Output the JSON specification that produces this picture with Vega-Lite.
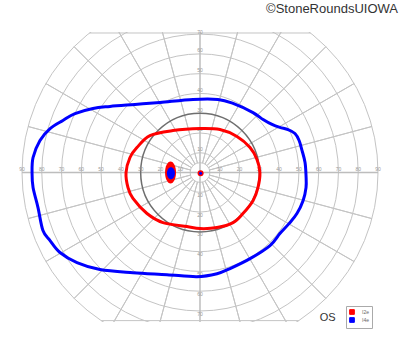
{
  "$schema": "https://vega.github.io/schema/vega-lite/v6.json",
  "width": 360,
  "height": 290,
  "autosize": {"type": "none"},
  "padding": {"left": 20, "top": 32, "right": 20, "bottom": 30},
  "background": "white",
  "config": {"view": {"stroke": null}},
  "layer": [
    {
      "data": {"values": [{"r": 5}, {"r": 10}, {"r": 20}, {"r": 40}, {"r": 50}, {"r": 60}, {"r": 70}, {"r": 80}, {"r": 90}]},
      "mark": {"type": "arc", "filled": false, "stroke": "#c4c4c4", "strokeWidth": 1, "theta": 0, "theta2": 6.2832, "clip": true},
      "encoding": {
        "x": {"datum": 0, "type": "quantitative", "scale": {"domain": [-91, 91], "nice": false, "zero": false}, "axis": null},
        "y": {"datum": 0, "type": "quantitative", "scale": {"domain": [-75.5, 71], "nice": false, "zero": false}, "axis": null},
        "radius": {"field": "r", "type": "quantitative", "stack": null, "scale": {"type": "linear", "domain": [0, 90], "range": [0, 178], "zero": true}}
      }
    },
    {
      "data": {"values": [
        {"a": 15, "r0": 5, "r1": 90}, {"a": 30, "r0": 5, "r1": 90}, {"a": 45, "r0": 5, "r1": 90}, {"a": 60, "r0": 5, "r1": 90}, {"a": 75, "r0": 5, "r1": 90},
        {"a": 105, "r0": 5, "r1": 90}, {"a": 120, "r0": 5, "r1": 90}, {"a": 135, "r0": 5, "r1": 90}, {"a": 150, "r0": 5, "r1": 90}, {"a": 165, "r0": 5, "r1": 90},
        {"a": 195, "r0": 5, "r1": 90}, {"a": 210, "r0": 5, "r1": 90}, {"a": 225, "r0": 5, "r1": 90}, {"a": 240, "r0": 5, "r1": 90}, {"a": 255, "r0": 5, "r1": 90},
        {"a": 285, "r0": 5, "r1": 90}, {"a": 300, "r0": 5, "r1": 90}, {"a": 315, "r0": 5, "r1": 90}, {"a": 330, "r0": 5, "r1": 90}, {"a": 345, "r0": 5, "r1": 90}
      ]},
      "mark": {"type": "arc", "filled": false, "stroke": "#c4c4c4", "strokeWidth": 1, "clip": true},
      "encoding": {
        "x": {"datum": 0, "type": "quantitative"},
        "y": {"datum": 0, "type": "quantitative"},
        "theta": {"field": "a", "type": "quantitative", "stack": null, "scale": {"domain": [0, 360], "range": [0, 6.2832]}},
        "theta2": {"field": "a"},
        "radius": {"field": "r1", "type": "quantitative", "stack": null},
        "radius2": {"field": "r0"}
      }
    },
    {
      "data": {"values": [{"a": 0, "r0": 0, "r1": 90}, {"a": 90, "r0": 0, "r1": 90}, {"a": 180, "r0": 0, "r1": 90}, {"a": 270, "r0": 0, "r1": 90}]},
      "mark": {"type": "arc", "filled": false, "stroke": "#bdbdbd", "strokeWidth": 1.5, "clip": true},
      "encoding": {
        "x": {"datum": 0, "type": "quantitative"},
        "y": {"datum": 0, "type": "quantitative"},
        "theta": {"field": "a", "type": "quantitative", "stack": null},
        "theta2": {"field": "a"},
        "radius": {"field": "r1", "type": "quantitative", "stack": null},
        "radius2": {"field": "r0"}
      }
    },
    {
      "data": {"values": [{"r": 30}]},
      "mark": {"type": "arc", "filled": false, "stroke": "#6e6e6e", "strokeWidth": 1.5, "theta": 0, "theta2": 6.2832, "clip": true},
      "encoding": {
        "x": {"datum": 0, "type": "quantitative"},
        "y": {"datum": 0, "type": "quantitative"},
        "radius": {"field": "r", "type": "quantitative", "stack": null}
      }
    },
    {
      "data": {"values": [{"x": -55.9, "x2": 55.9, "y": 70.5}, {"x": -50.0, "x2": 50.0, "y": -74.8}]},
      "mark": {"type": "rule", "stroke": "#c4c4c4", "strokeWidth": 1},
      "encoding": {
        "x": {"field": "x", "type": "quantitative"},
        "x2": {"field": "x2"},
        "y": {"field": "y", "type": "quantitative"}
      }
    },
    {
      "data": {"values": [
        {"x": -90, "y": 0, "t": "90"}, {"x": -80, "y": 0, "t": "80"}, {"x": -70, "y": 0, "t": "70"}, {"x": -60, "y": 0, "t": "60"}, {"x": -50, "y": 0, "t": "50"}, {"x": -40, "y": 0, "t": "40"}, {"x": -30, "y": 0, "t": "30"}, {"x": -20, "y": 0, "t": "20"}, {"x": -10, "y": 0, "t": "10"},
        {"x": 10, "y": 0, "t": "10"}, {"x": 20, "y": 0, "t": "20"}, {"x": 30, "y": 0, "t": "30"}, {"x": 40, "y": 0, "t": "40"}, {"x": 50, "y": 0, "t": "50"}, {"x": 60, "y": 0, "t": "60"}, {"x": 70, "y": 0, "t": "70"}, {"x": 80, "y": 0, "t": "80"}, {"x": 90, "y": 0, "t": "90"},
        {"x": 0, "y": 10, "t": "10"}, {"x": 0, "y": 20, "t": "20"}, {"x": 0, "y": 30, "t": "30"}, {"x": 0, "y": 40, "t": "40"}, {"x": 0, "y": 50, "t": "50"}, {"x": 0, "y": 60, "t": "60"}, {"x": 0, "y": 69, "t": "70"}
      ]},
      "mark": {"type": "text", "fontSize": 5, "font": "Liberation Sans", "fill": "#9a9a9a", "baseline": "bottom", "align": "center", "dy": -0.5},
      "encoding": {
        "x": {"field": "x", "type": "quantitative"},
        "y": {"field": "y", "type": "quantitative"},
        "text": {"field": "t"}
      }
    },
    {
      "data": {"values": [
        {"x": 0, "y": -10, "t": "10"}, {"x": 0, "y": -20, "t": "20"}, {"x": 0, "y": -30, "t": "30"}, {"x": 0, "y": -40, "t": "40"}, {"x": 0, "y": -50, "t": "50"}, {"x": 0, "y": -60, "t": "60"}, {"x": 0, "y": -70, "t": "70"}
      ]},
      "mark": {"type": "text", "fontSize": 5, "font": "Liberation Sans", "fill": "#9a9a9a", "baseline": "top", "align": "center", "dy": 0.5},
      "encoding": {
        "x": {"field": "x", "type": "quantitative"},
        "y": {"field": "y", "type": "quantitative"},
        "text": {"field": "t"}
      }
    },
    {
      "data": {"values": [
        {"iso": "I4e", "i": 0, "x": -84.9, "y": -0.5}, {"iso": "I4e", "i": 1, "x": -84.4, "y": 7.6}, {"iso": "I4e", "i": 2, "x": -80.9, "y": 16.2}, {"iso": "I4e", "i": 3, "x": -75.8, "y": 22.2},
        {"iso": "I4e", "i": 4, "x": -69.3, "y": 26.3}, {"iso": "I4e", "i": 5, "x": -63.2, "y": 29.8}, {"iso": "I4e", "i": 6, "x": -54.1, "y": 32.4}, {"iso": "I4e", "i": 7, "x": -45.5, "y": 33.4},
        {"iso": "I4e", "i": 8, "x": -32.9, "y": 34.4}, {"iso": "I4e", "i": 9, "x": -20.2, "y": 35.4}, {"iso": "I4e", "i": 10, "x": -3.5, "y": 36.9}, {"iso": "I4e", "i": 11, "x": 9.1, "y": 36.9},
        {"iso": "I4e", "i": 12, "x": 16.7, "y": 34.9}, {"iso": "I4e", "i": 13, "x": 26.8, "y": 30.3}, {"iso": "I4e", "i": 14, "x": 31.9, "y": 26.8}, {"iso": "I4e", "i": 15, "x": 36.4, "y": 24.3},
        {"iso": "I4e", "i": 16, "x": 40.4, "y": 22.8}, {"iso": "I4e", "i": 17, "x": 44.5, "y": 21.7}, {"iso": "I4e", "i": 18, "x": 48.0, "y": 19.7}, {"iso": "I4e", "i": 19, "x": 50.1, "y": 16.2},
        {"iso": "I4e", "i": 20, "x": 51.6, "y": 11.1}, {"iso": "I4e", "i": 21, "x": 53.1, "y": 5.1}, {"iso": "I4e", "i": 22, "x": 53.6, "y": -1.5}, {"iso": "I4e", "i": 23, "x": 53.6, "y": -7.6},
        {"iso": "I4e", "i": 24, "x": 52.1, "y": -14.2}, {"iso": "I4e", "i": 25, "x": 49.0, "y": -20.7}, {"iso": "I4e", "i": 26, "x": 45.0, "y": -25.8}, {"iso": "I4e", "i": 27, "x": 40.4, "y": -30.8},
        {"iso": "I4e", "i": 28, "x": 35.4, "y": -36.9}, {"iso": "I4e", "i": 29, "x": 25.3, "y": -43.5}, {"iso": "I4e", "i": 30, "x": 15.2, "y": -48.5}, {"iso": "I4e", "i": 31, "x": 8.6, "y": -51.1},
        {"iso": "I4e", "i": 32, "x": -1.5, "y": -52.6}, {"iso": "I4e", "i": 33, "x": -16.7, "y": -51.6}, {"iso": "I4e", "i": 34, "x": -33.9, "y": -50.6}, {"iso": "I4e", "i": 35, "x": -50.6, "y": -49.0},
        {"iso": "I4e", "i": 36, "x": -62.2, "y": -45.5}, {"iso": "I4e", "i": 37, "x": -70.8, "y": -40.4}, {"iso": "I4e", "i": 38, "x": -75.8, "y": -34.4}, {"iso": "I4e", "i": 39, "x": -79.4, "y": -29.3},
        {"iso": "I4e", "i": 40, "x": -81.9, "y": -17.7}, {"iso": "I4e", "i": 41, "x": -84.4, "y": -7.6},
        {"iso": "I2e", "i": 0, "x": 0, "y": 22.2}, {"iso": "I2e", "i": 1, "x": 10.1, "y": 21.7}, {"iso": "I2e", "i": 2, "x": 18.7, "y": 18.2}, {"iso": "I2e", "i": 3, "x": 25.3, "y": 12.6},
        {"iso": "I2e", "i": 4, "x": 28.8, "y": 6.6}, {"iso": "I2e", "i": 5, "x": 30.3, "y": 0}, {"iso": "I2e", "i": 6, "x": 29.3, "y": -7.6}, {"iso": "I2e", "i": 7, "x": 26.8, "y": -14.2},
        {"iso": "I2e", "i": 8, "x": 21.7, "y": -20.7}, {"iso": "I2e", "i": 9, "x": 16.7, "y": -25.3}, {"iso": "I2e", "i": 10, "x": 8.6, "y": -27.8}, {"iso": "I2e", "i": 11, "x": 0, "y": -28.3},
        {"iso": "I2e", "i": 12, "x": -6.6, "y": -27.3}, {"iso": "I2e", "i": 13, "x": -18.7, "y": -25.3}, {"iso": "I2e", "i": 14, "x": -26.8, "y": -20.7}, {"iso": "I2e", "i": 15, "x": -33.9, "y": -13.1},
        {"iso": "I2e", "i": 16, "x": -36.4, "y": -7.6}, {"iso": "I2e", "i": 17, "x": -37.4, "y": 0}, {"iso": "I2e", "i": 18, "x": -35.4, "y": 7.6}, {"iso": "I2e", "i": 19, "x": -31.9, "y": 12.6},
        {"iso": "I2e", "i": 20, "x": -25.3, "y": 18.7}, {"iso": "I2e", "i": 21, "x": -13.7, "y": 21.2}
      ]},
      "mark": {"type": "line", "interpolate": "cardinal-closed", "strokeWidth": 3, "clip": true},
      "encoding": {
        "x": {"field": "x", "type": "quantitative"},
        "y": {"field": "y", "type": "quantitative"},
        "order": {"field": "i", "type": "quantitative"},
        "stroke": {"field": "iso", "type": "nominal", "scale": {"domain": ["I2e", "I4e"], "range": ["#ff0000", "#0000ff"]},
          "legend": {"orient": "none", "legendX": 326, "legendY": 274, "title": null, "symbolType": "square", "symbolSize": 22, "symbolStrokeWidth": 1, "labelFontSize": 5, "labelFont": "Liberation Sans", "labelColor": "#666", "padding": 3, "strokeColor": "#aaaaaa", "fillColor": "white", "rowPadding": -2.5, "labelOffset": 7,
            "encode": {"symbols": {"update": {"fill": {"scale": "stroke", "field": "value"}}}}}}
      }
    },
    {
      "data": {"values": [{"x": -14.9, "y": 0, "iso": "I2e"}]},
      "mark": {"type": "point", "filled": true, "opacity": 1, "strokeWidth": 0, "size": 484, "shape": "M0,-1C0.276,-1 0.5,-0.552 0.5,0C0.5,0.552 0.276,1 0,1C-0.276,1 -0.5,0.552 -0.5,0C-0.5,-0.552 -0.276,-1 0,-1Z"},
      "encoding": {
        "x": {"field": "x", "type": "quantitative"},
        "y": {"field": "y", "type": "quantitative"},
        "fill": {"field": "iso", "type": "nominal", "scale": {"domain": ["I2e", "I4e"], "range": ["#ff0000", "#0000ff"]}, "legend": null}
      }
    },
    {
      "data": {"values": [{"x": -14.7, "y": -0.4, "iso": "I4e"}]},
      "mark": {"type": "point", "filled": true, "opacity": 1, "strokeWidth": 0, "size": 144, "shape": "M0,-1C0.368,-1 0.667,-0.552 0.667,0C0.667,0.552 0.368,1 0,1C-0.368,1 -0.667,0.552 -0.667,0C-0.667,-0.552 -0.368,-1 0,-1Z"},
      "encoding": {
        "x": {"field": "x", "type": "quantitative"},
        "y": {"field": "y", "type": "quantitative"},
        "fill": {"field": "iso", "type": "nominal", "legend": null}
      }
    },
    {
      "data": {"values": [{"x": 0.3, "y": -0.3, "iso": "I2e"}]},
      "mark": {"type": "point", "filled": true, "opacity": 1, "strokeWidth": 0, "size": 36, "shape": "circle"},
      "encoding": {
        "x": {"field": "x", "type": "quantitative"},
        "y": {"field": "y", "type": "quantitative"},
        "fill": {"field": "iso", "type": "nominal", "legend": null}
      }
    },
    {
      "data": {"values": [{"x": 0.3, "y": -0.3, "iso": "I4e"}]},
      "mark": {"type": "point", "filled": true, "opacity": 1, "strokeWidth": 0, "size": 9, "shape": "circle"},
      "encoding": {
        "x": {"field": "x", "type": "quantitative"},
        "y": {"field": "y", "type": "quantitative"},
        "fill": {"field": "iso", "type": "nominal", "legend": null}
      }
    },
    {
      "data": {"values": [{"x": 64.5, "y": -73.3, "t": "OS"}]},
      "mark": {"type": "text", "fontSize": 11, "font": "Liberation Sans", "fill": "#333", "align": "center", "baseline": "middle"},
      "encoding": {
        "x": {"field": "x", "type": "quantitative"},
        "y": {"field": "y", "type": "quantitative"},
        "text": {"field": "t"}
      }
    },
    {
      "data": {"values": [{"x": 100.1, "y": 80.6, "t": "©StoneRoundsUIOWA"}]},
      "mark": {"type": "text", "fontSize": 13, "font": "Liberation Sans", "fill": "#333", "align": "right", "baseline": "alphabetic"},
      "encoding": {
        "x": {"field": "x", "type": "quantitative"},
        "y": {"field": "y", "type": "quantitative"},
        "text": {"field": "t"}
      }
    }
  ]
}
